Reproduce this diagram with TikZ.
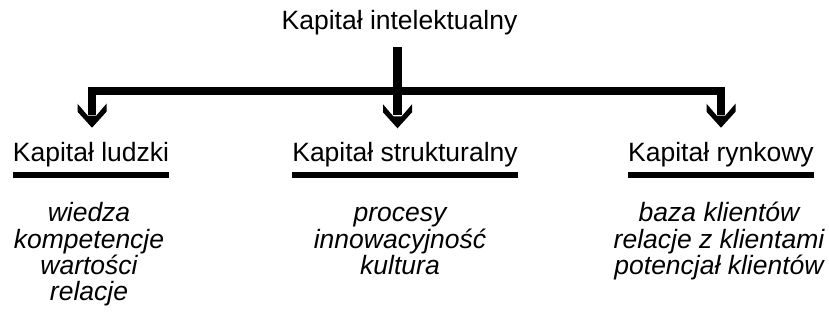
\documentclass[tikz,border=0pt]{standalone}
\usepackage{fontspec}
\setmainfont{Liberation Sans}
\begin{document}
\begin{tikzpicture}[x=1pt,y=-1pt,
  txt/.style={inner sep=0pt, anchor=base, font=\fontsize{26.5}{26.6}\selectfont},
  item/.style={txt, font=\fontsize{26.5}{26.6}\selectfont\itshape},
  bar/.style={line width=8.3pt, miter limit=10},
  uline/.style={line width=6.6pt},
  downhead/.pic={\fill (0,0) -- (-14.5,-16) -- (-14.5,-24) -- (-4.2,-12) -- (4.2,-12)
                        -- (14.5,-24) -- (14.5,-16) -- cycle;}]
\useasboundingbox (0,0) rectangle (829,320);

% root
\node[txt] (root) at (399.5,30) {Kapitał intelektualny};

% branch headings
\node[txt] (hl) at (91,162) {Kapitał ludzki};
\node[txt] (hs) at (405,162) {Kapitał strukturalny};
\node[txt] (hr) at (721,162) {Kapitał rynkowy};

\foreach \h in {hl,hs,hr}
  \draw[uline] (\h.west |- 0,175) -- (\h.east |- 0,175);

% arrow tips above the headings
\coordinate (tl) at (92,127.7);
\coordinate (ts) at (397.5,128.3);
\coordinate (tr) at (721,127.7);
\coordinate (top) at (397.5,47.3);

% distribution bar (stems end where the heads begin)
\draw[bar] ([yshift=13pt]tl) -- (tl |- 0,91) -- (tr |- 0,91) -- ([yshift=13pt]tr);
\draw[bar] (top) -- ([yshift=13pt]ts);
\pic at (tl) {downhead};
\pic at (ts) {downhead};
\pic at (tr) {downhead};

% human capital
\node[item] (l1) at (89,222) {wiedza};
\node[item] (l2) at (89,248) {kompetencje};
\node[item] (l3) at (89,274) {wartości};
\node[item] (l4) at (89,300) {relacje};

% structural capital
\node[item] (s1) at (400,222) {procesy};
\node[item] (s2) at (400,248) {innowacyjność};
\node[item] (s3) at (400,274) {kultura};

% market capital
\node[item] (r1) at (719,222) {baza klientów};
\node[item] (r2) at (719,248) {relacje z klientami};
\node[item] (r3) at (719,274) {potencjał klientów};
\end{tikzpicture}
\end{document}
